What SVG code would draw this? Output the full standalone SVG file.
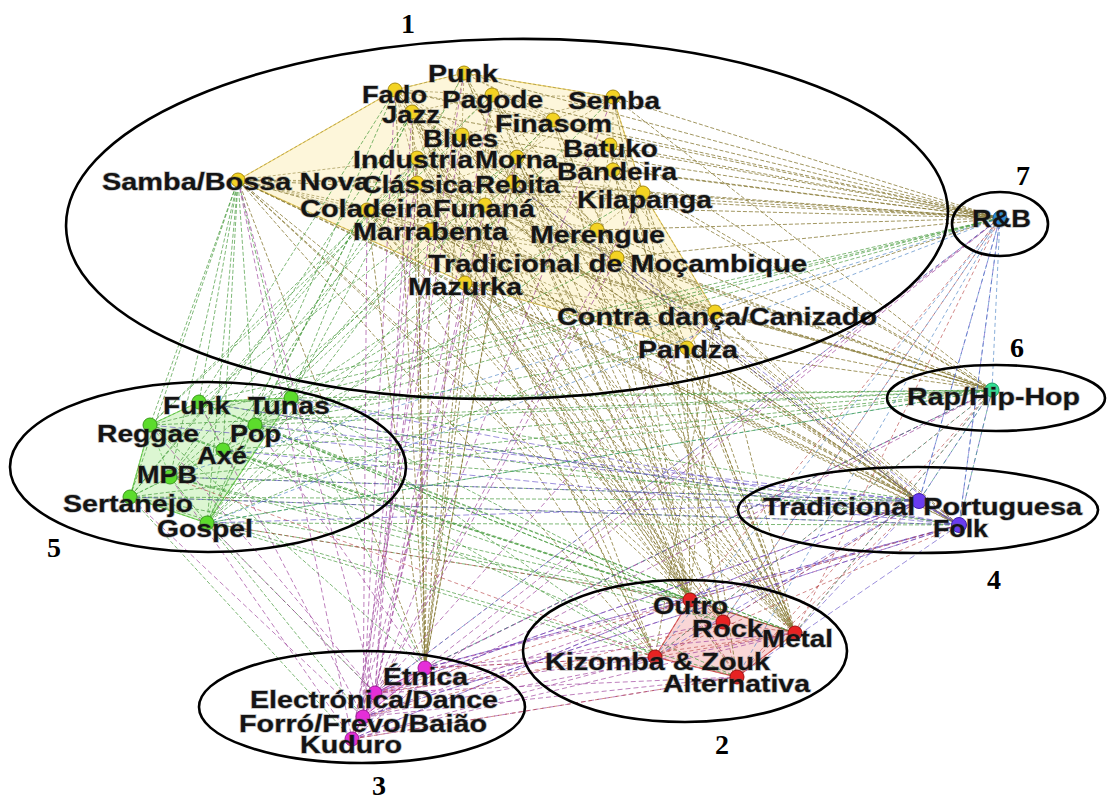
<svg xmlns="http://www.w3.org/2000/svg" width="1107" height="800" viewBox="0 0 1107 800">
  <style>
    .lbl { font-family: "Liberation Sans", Arial, sans-serif; font-weight: bold; font-size: 24px; fill: #141414; stroke: #5a5a5a; stroke-opacity: 0.4; stroke-width: 1.4px; paint-order: stroke; }
    .num { font-family: "Liberation Serif", "Times New Roman", serif; font-weight: bold; font-size: 28px; fill: #000; text-anchor: middle; }
    .grp { fill: none; stroke: #000; stroke-width: 2.6; }
    .e { fill: none; stroke-width: 1; }
    .e-y  { stroke: #8a7c38; stroke-dasharray: 4 2; stroke-opacity: 0.8; }
    .e-yi { stroke: #9a8c48; stroke-dasharray: 3 2; stroke-opacity: 0.65; }
    .e-g  { stroke: #3a9430; stroke-dasharray: 4 2; stroke-opacity: 0.65; }
    .e-gi { stroke: #45b03a; stroke-dasharray: 3 2; stroke-opacity: 0.6; }
    .e-m  { stroke: #9a3a98; stroke-dasharray: 5 3; stroke-opacity: 0.65; }
    .e-v  { stroke: #5a44c4; stroke-dasharray: 6 3; stroke-opacity: 0.6; }
    .e-r  { stroke: #b43a3a; stroke-dasharray: 4 3; stroke-opacity: 0.6; }
    .e-b  { stroke: #3a78c0; stroke-dasharray: 4 3; stroke-opacity: 0.6; }
    .e-t  { stroke: #2e9a7a; stroke-dasharray: 4 3; stroke-opacity: 0.6; }
    .n-y circle { fill: #f3d323; stroke: #a88c10; stroke-width: 1; }
    .n-g circle { fill: #5cdc2c; stroke: #3a9a1a; stroke-width: 1; }
    .n-m circle { fill: #e52ed8; stroke: #a01898; stroke-width: 1; }
    .n-r circle { fill: #e82222; stroke: #a01010; stroke-width: 1; }
    .n-v circle { fill: #6a3cf0; stroke: #4020b0; stroke-width: 1; }
    .n-b circle { fill: #2a8ee0; stroke: #1a60a0; stroke-width: 1; }
    .n-t circle { fill: #30e094; stroke: #1a9a60; stroke-width: 1; }
  </style>

  <rect width="1107" height="800" fill="#ffffff"/>

  <!-- community hulls -->
  <g id="hulls">
    <polygon points="238,180 395,90 464,73 613,97 643,193 715,312 687,348 465,283" fill="#fdf6da" stroke="#f0d468" stroke-width="1.2"/>
    <polygon points="150,425 199,402 291,398 207,523 130,497" fill="#dcf6d2" stroke="#86d866" stroke-width="1.2"/>
    <polygon points="655,657 690,600 795,633 737,677" fill="#f9d6d6" stroke="#e06a6a" stroke-width="1.2"/>
    <polygon points="425,668 375,693 352,739 363,717" fill="#f6d0f0" stroke="#e070d8" stroke-width="1"/>
    <line x1="919" y1="501" x2="959" y2="525" stroke="#8a70f0" stroke-width="2"/>
  </g>

  <!-- connectors -->
  <g id="edges">
    <!-- inside community 1 -->
    <path class="e e-yi" d="M238 180L417 183M238 180L367 210M238 180L430 230M238 180L395 90M238 180L417 158M238 180L465 283M238 180L617 258
      M395 90L464 73M395 90L492 95M395 90L412 112M395 90L462 135M395 90L517 157M395 90L553 120M395 90L485 205M395 90L430 230
      M464 73L613 97M464 73L553 120M464 73L462 135M464 73L417 158M464 73L513 182M464 73L610 145
      M492 95L613 97M492 95L412 112M492 95L517 157M492 95L610 145M492 95L485 205M492 95L597 230M492 95L367 210
      M613 97L553 120M613 97L613 170M613 97L643 193M613 97L517 157M613 97L462 135
      M412 112L462 135M412 112L417 183M412 112L513 182M412 112L465 283M412 112L597 230
      M553 120L610 145M553 120L517 157M553 120L485 205M553 120L617 258M553 120L417 183
      M462 135L517 157M462 135L417 158M462 135L430 230M462 135L613 170M462 135L715 312
      M610 145L613 170M610 145L643 193M610 145L513 182M610 145L597 230
      M417 158L417 183M417 158L367 210M417 158L485 205M417 158L617 258M417 158L687 348
      M517 157L513 182M517 157L613 170M517 157L485 205M517 157L465 283M517 157L597 230M517 157L367 210
      M613 170L643 193M613 170L597 230M613 170L513 182M613 170L715 312
      M417 183L513 182M417 183L367 210M417 183L430 230M417 183L617 258M417 183L715 312
      M513 182L485 205M513 182L643 193M513 182L617 258M513 182L465 283M513 182L687 348
      M643 193L597 230M643 193L617 258M643 193L715 312M643 193L485 205
      M367 210L485 205M367 210L430 230M367 210L465 283M367 210L617 258
      M485 205L430 230M485 205L597 230M485 205L465 283M485 205L715 312
      M430 230L465 283M430 230L617 258M430 230L597 230M430 230L687 348
      M597 230L617 258M597 230L465 283M597 230L715 312
      M617 258L715 312M617 258L687 348M617 258L465 283
      M465 283L687 348M465 283L715 312
      M395 90L465 283M412 112L687 348M462 135L597 230M464 73L430 230M553 120L715 312M610 145L465 283M492 95L687 348M417 158L643 193M367 210L613 170M238 180L513 182"/>
    <!-- community 1 to R&B -->
    <path class="e e-y" d="M613 97L1000 218M610 145L1000 218M613 170L1000 218M643 193L1000 218M553 120L1000 218M492 95L1000 218M464 73L1000 218M597 230L1000 218M617 258L1000 218M517 157L1000 218M513 182L1000 218M715 312L1000 218M412 112L1000 218M395 90L1000 218M462 135L1000 218M238 180L1000 218M485 205L1000 218M417 183L1000 218"/>
    <!-- community 1 to Rap/Hip-Hop -->
    <path class="e e-y" d="M687 348L992 390M715 312L992 390M617 258L992 390M597 230L992 390M643 193L992 390M465 283L992 390M430 230L992 390M485 205L992 390M367 210L992 390M417 183L992 390M238 180L992 390M613 170L992 390M610 145L992 390M613 97L992 390"/>
    <!-- community 1 to community 4 -->
    <path class="e e-y" d="M687 348L919 501M715 312L919 501M465 283L919 501M430 230L919 501M367 210L919 501M485 205L919 501M513 182L919 501M417 158L919 501M412 112L919 501M238 180L919 501M617 258L919 501M517 157L919 501M395 90L919 501
      M715 312L959 525M687 348L959 525M465 283L959 525M430 230L959 525M417 183L959 525M238 180L959 525M597 230L959 525"/>
    <!-- community 1 to community 2 -->
    <path class="e e-y" d="M395 90L690 600M412 112L723 622M462 135L795 633M417 158L690 600M417 183L655 657M367 210L690 600M430 230L723 622M465 283L795 633M465 283L690 600M485 205L655 657M513 182L723 622M517 157L795 633M464 73L795 633M492 95L723 622M617 258L690 600M597 230L795 633M715 312L655 657M238 180L690 600M238 180L795 633M430 230L737 677M687 348L737 677M643 193L723 622M610 145L690 600M553 120L690 600M613 97L723 622M412 112L655 657M367 210L723 622M465 283L655 657M417 158L795 633M238 180L723 622M238 180L655 657M715 312L795 633M687 348L690 600M613 170L795 633M462 135L690 600
      M395 90L795 633M412 112L690 600M417 183L795 633M417 183L690 600M367 210L795 633M430 230L690 600M430 230L795 633M485 205L690 600M485 205L795 633M513 182L690 600M517 157L690 600M492 95L795 633M464 73L690 600M617 258L795 633M597 230L690 600M643 193L795 633M553 120L795 633M610 145L795 633M715 312L690 600M687 348L795 633M465 283L723 622M367 210L655 657"/>
    <!-- community 1 to Étnica -->
    <path class="e e-y" d="M430 230L425 668M465 283L425 668M417 183L425 668M417 158L425 668M485 205L425 668M367 210L425 668M412 112L425 668M395 90L425 668M238 180L425 668M462 135L425 668M513 182L425 668M517 157L425 668M492 95L425 668"/>
    <!-- community 1 to community 5 -->
    <path class="e e-g" d="M395 90L207 523M412 112L207 523M395 90L199 402M412 112L255 425M417 158L223 450M417 183L170 477M367 210L130 497M430 230L255 425M367 210L291 398M465 283L207 523M462 135L150 425M517 157L199 402M485 205L223 450M513 182L170 477M617 258L130 497M613 97L207 523M643 193L255 425M464 73L291 398M492 95L150 425M715 312L207 523M238 180L199 402M238 180L150 425M238 180L170 477M238 180L130 497M238 180L207 523M238 180L255 425M238 180L291 398M238 180L223 450M430 230L207 523M417 158L130 497M412 112L170 477M553 120L223 450M597 230L207 523M687 348L255 425M465 283L291 398"/>
    <!-- community 5 outwards -->
    <path class="e e-g" d="M199 402L992 390M291 398L992 390M255 425L992 390M150 425L992 390M223 450L919 501M170 477L919 501M130 497L959 525M207 523L959 525M255 425L1000 218M291 398L1000 218M199 402L1000 218M223 450L795 633M170 477L723 622M207 523L690 600M207 523L655 657M130 497L737 677M150 425L795 633M291 398L919 501M255 425L959 525M223 450L992 390M199 402L690 600M291 398L425 668M207 523L375 693M170 477L363 717M130 497L352 739M150 425L425 668M255 425L655 657M291 398L655 657M199 402L959 525M223 450L737 677M150 425L1000 218M130 497L919 501M170 477L992 390
      M255 425L690 600M291 398L723 622M223 450L690 600M170 477L690 600M150 425L723 622M130 497L690 600M199 402L795 633M255 425L795 633M130 497L992 390M207 523L992 390"/>
    <!-- inside community 5 -->
    <path class="e e-gi" d="M150 425L199 402M199 402L291 398M291 398L255 425M255 425L223 450M223 450L170 477M170 477L130 497M130 497L207 523M207 523L223 450M150 425L170 477M199 402L255 425M150 425L223 450M207 523L255 425M291 398L207 523M199 402L223 450M150 425L130 497M291 398L170 477"/>
    <!-- community 1 to community 3 -->
    <path class="e e-m" d="M412 112L375 693M417 158L363 717M462 135L352 739M417 183L375 693M465 283L375 693M430 230L363 717M517 157L352 739M485 205L375 693M395 90L363 717M492 95L375 693M617 258L352 739M613 97L375 693M643 193L363 717M715 312L375 693M238 180L352 739M238 180L375 693M367 210L363 717M464 73L352 739"/>
    <!-- community 3 outwards -->
    <path class="e e-m" d="M425 668L1000 218M375 693L1000 218M363 717L992 390M352 739L919 501M425 668L959 525M375 693L992 390M425 668L795 633M375 693L723 622M363 717L690 600M352 739L655 657M425 668L655 657M375 693L737 677M363 717L795 633M352 739L737 677M375 693L919 501M363 717L959 525M425 668L992 390M352 739L1000 218M375 693L207 523M363 717L130 497M352 739L170 477M425 668L255 425M375 693L150 425M363 717L199 402M425 668L690 600M375 693L655 657M352 739L795 633M363 717L737 677
      M425 668L375 693M375 693L363 717M363 717L352 739M425 668L363 717M375 693L352 739M425 668L352 739"/>
    <!-- community 4 outwards -->
    <path class="e e-v" d="M919 501L1000 218M959 525L1000 218M919 501L992 390M959 525L992 390M919 501L207 523M959 525L130 497M919 501L170 477M959 525L223 450M919 501L150 425M959 525L291 398M919 501L655 657M959 525L690 600M919 501L795 633M959 525L737 677M919 501L375 693M959 525L363 717M919 501L352 739M959 525L425 668M919 501L959 525M919 501L255 425M959 525L199 402M919 501L723 622M959 525L617 258M919 501L513 182"/>
    <!-- community 2 -->
    <path class="e e-r" d="M690 600L1000 218M723 622L1000 218M795 633L1000 218M655 657L992 390M737 677L992 390M795 633L992 390M723 622L919 501M690 600L959 525M655 657L959 525M737 677L919 501M655 657L425 668M690 600L375 693M723 622L363 717M737 677L352 739M795 633L375 693M690 600L207 523M655 657L170 477
      M690 600L723 622M723 622L795 633M795 633L737 677M737 677L655 657M655 657L690 600M655 657L723 622M690 600L795 633M723 622L737 677M655 657L795 633M690 600L737 677"/>
    <!-- R&B -->
    <path class="e e-b" d="M1000 218L992 390M1000 218L919 501M1000 218L959 525M1000 218L737 677M1000 218L655 657M1000 218L375 693M1000 218L207 523M1000 218L170 477M1000 218L723 622"/>
    <!-- Rap/Hip-Hop -->
    <path class="e e-t" d="M992 390L959 525M992 390L919 501M992 390L795 633M992 390L655 657M992 390L425 668M992 390L207 523"/>
  </g>

  <!-- community 1 -->
  <g id="n-punk" class="n-y"><circle cx="464" cy="73" r="7"/><text class="lbl" x="428" y="82" textLength="70" lengthAdjust="spacingAndGlyphs">Punk</text></g>
  <g id="n-fado" class="n-y"><circle cx="395" cy="90" r="7"/><text class="lbl" x="362" y="103" textLength="65" lengthAdjust="spacingAndGlyphs">Fado</text></g>
  <g id="n-pagode" class="n-y"><circle cx="492" cy="95" r="7"/><text class="lbl" x="442" y="108" textLength="101" lengthAdjust="spacingAndGlyphs">Pagode</text></g>
  <g id="n-semba" class="n-y"><circle cx="613" cy="97" r="7"/><text class="lbl" x="568" y="109" textLength="92" lengthAdjust="spacingAndGlyphs">Semba</text></g>
  <g id="n-jazz" class="n-y"><circle cx="412" cy="112" r="7"/><text class="lbl" x="382" y="123" textLength="58" lengthAdjust="spacingAndGlyphs">Jazz</text></g>
  <g id="n-finasom" class="n-y"><circle cx="553" cy="120" r="7"/><text class="lbl" x="495" y="132" textLength="117" lengthAdjust="spacingAndGlyphs">Finasom</text></g>
  <g id="n-blues" class="n-y"><circle cx="462" cy="135" r="7"/><text class="lbl" x="423" y="147" textLength="75" lengthAdjust="spacingAndGlyphs">Blues</text></g>
  <g id="n-batuko" class="n-y"><circle cx="610" cy="145" r="7"/><text class="lbl" x="563" y="157" textLength="95" lengthAdjust="spacingAndGlyphs">Batuko</text></g>
  <g id="n-industria" class="n-y"><circle cx="417" cy="158" r="7"/><text class="lbl" x="353" y="168" textLength="120" lengthAdjust="spacingAndGlyphs">Industria</text></g>
  <g id="n-morna" class="n-y"><circle cx="517" cy="157" r="7"/><text class="lbl" x="475" y="168" textLength="83" lengthAdjust="spacingAndGlyphs">Morna</text></g>
  <g id="n-bandeira" class="n-y"><circle cx="613" cy="170" r="7"/><text class="lbl" x="557" y="180" textLength="120" lengthAdjust="spacingAndGlyphs">Bandeira</text></g>
  <g id="n-samba" class="n-y"><circle cx="238" cy="180" r="7"/><text class="lbl" x="102" y="190" textLength="268" lengthAdjust="spacingAndGlyphs">Samba/Bossa Nova</text></g>
  <g id="n-classica" class="n-y"><circle cx="417" cy="183" r="7"/><text class="lbl" x="362" y="193" textLength="111" lengthAdjust="spacingAndGlyphs">Clássica</text></g>
  <g id="n-rebita" class="n-y"><circle cx="513" cy="182" r="7"/><text class="lbl" x="475" y="193" textLength="85" lengthAdjust="spacingAndGlyphs">Rebita</text></g>
  <g id="n-kilapanga" class="n-y"><circle cx="643" cy="193" r="7"/><text class="lbl" x="577" y="208" textLength="135" lengthAdjust="spacingAndGlyphs">Kilapanga</text></g>
  <g id="n-coladeira" class="n-y"><circle cx="367" cy="210" r="7"/><text class="lbl" x="300" y="217" textLength="132" lengthAdjust="spacingAndGlyphs">Coladeira</text></g>
  <g id="n-funana" class="n-y"><circle cx="485" cy="205" r="7"/><text class="lbl" x="433" y="217" textLength="102" lengthAdjust="spacingAndGlyphs">Funaná</text></g>
  <g id="n-marrabenta" class="n-y"><circle cx="430" cy="230" r="7"/><text class="lbl" x="353" y="240" textLength="155" lengthAdjust="spacingAndGlyphs">Marrabenta</text></g>
  <g id="n-merengue" class="n-y"><circle cx="597" cy="230" r="7"/><text class="lbl" x="530" y="243" textLength="135" lengthAdjust="spacingAndGlyphs">Merengue</text></g>
  <g id="n-tradmoc" class="n-y"><circle cx="617" cy="258" r="7"/><text class="lbl" x="428" y="272" textLength="379" lengthAdjust="spacingAndGlyphs">Tradicional de Moçambique</text></g>
  <g id="n-mazurka" class="n-y"><circle cx="465" cy="283" r="7"/><text class="lbl" x="408" y="295" textLength="114" lengthAdjust="spacingAndGlyphs">Mazurka</text></g>
  <g id="n-contra" class="n-y"><circle cx="715" cy="312" r="7"/><text class="lbl" x="557" y="325" textLength="320" lengthAdjust="spacingAndGlyphs">Contra dança/Canizado</text></g>
  <g id="n-pandza" class="n-y"><circle cx="687" cy="348" r="7"/><text class="lbl" x="638" y="358" textLength="100" lengthAdjust="spacingAndGlyphs">Pandza</text></g>

  <!-- community 5 -->
  <g id="n-funk" class="n-g"><circle cx="199" cy="402" r="7"/><text class="lbl" x="163" y="414" textLength="67" lengthAdjust="spacingAndGlyphs">Funk</text></g>
  <g id="n-tunas" class="n-g"><circle cx="291" cy="398" r="7"/><text class="lbl" x="248" y="414" textLength="82" lengthAdjust="spacingAndGlyphs">Tunas</text></g>
  <g id="n-reggae" class="n-g"><circle cx="150" cy="425" r="7"/><text class="lbl" x="97" y="442" textLength="102" lengthAdjust="spacingAndGlyphs">Reggae</text></g>
  <g id="n-pop" class="n-g"><circle cx="255" cy="425" r="7"/><text class="lbl" x="230" y="442" textLength="51" lengthAdjust="spacingAndGlyphs">Pop</text></g>
  <g id="n-axe" class="n-g"><circle cx="223" cy="450" r="7"/><text class="lbl" x="197" y="464" textLength="50" lengthAdjust="spacingAndGlyphs">Axé</text></g>
  <g id="n-mpb" class="n-g"><circle cx="170" cy="477" r="7"/><text class="lbl" x="137" y="483" textLength="60" lengthAdjust="spacingAndGlyphs">MPB</text></g>
  <g id="n-sertanejo" class="n-g"><circle cx="130" cy="497" r="7"/><text class="lbl" x="63" y="512" textLength="130" lengthAdjust="spacingAndGlyphs">Sertanejo</text></g>
  <g id="n-gospel" class="n-g"><circle cx="207" cy="523" r="7"/><text class="lbl" x="157" y="537" textLength="96" lengthAdjust="spacingAndGlyphs">Gospel</text></g>

  <!-- communities 6, 7 and 4 -->
  <g id="n-rap" class="n-t"><circle cx="992" cy="390" r="7"/><text class="lbl" x="907" y="405" textLength="173" lengthAdjust="spacingAndGlyphs">Rap/Hip-Hop</text></g>
  <g id="n-rnb" class="n-b"><circle cx="1000" cy="218" r="7"/><text class="lbl" x="972" y="227" textLength="59" lengthAdjust="spacingAndGlyphs">R&amp;B</text></g>
  <g id="n-tradport" class="n-v"><circle cx="919" cy="501" r="7.5"/><text class="lbl" x="763" y="515" textLength="319" lengthAdjust="spacingAndGlyphs">Tradicional Portuguesa</text></g>
  <g id="n-folk" class="n-v"><circle cx="959" cy="525" r="7.5"/><text class="lbl" x="933" y="537" textLength="55" lengthAdjust="spacingAndGlyphs">Folk</text></g>

  <!-- community 3 -->
  <g id="n-etnica" class="n-m"><circle cx="425" cy="668" r="7"/><text class="lbl" x="383" y="685" textLength="85" lengthAdjust="spacingAndGlyphs">Étnica</text></g>
  <g id="n-electronica" class="n-m"><circle cx="375" cy="693" r="7"/><text class="lbl" x="250" y="708" textLength="248" lengthAdjust="spacingAndGlyphs">Electrónica/Dance</text></g>
  <g id="n-forro" class="n-m"><circle cx="363" cy="717" r="7"/><text class="lbl" x="239" y="732" textLength="248" lengthAdjust="spacingAndGlyphs">Forró/Frevo/Baião</text></g>
  <g id="n-kuduro" class="n-m"><circle cx="352" cy="739" r="7"/><text class="lbl" x="300" y="753" textLength="102" lengthAdjust="spacingAndGlyphs">Kuduro</text></g>

  <!-- community 2 -->
  <g id="n-outro" class="n-r"><circle cx="690" cy="600" r="7"/><text class="lbl" x="653" y="614" textLength="75" lengthAdjust="spacingAndGlyphs">Outro</text></g>
  <g id="n-rock" class="n-r"><circle cx="723" cy="622" r="7"/><text class="lbl" x="692" y="637" textLength="71" lengthAdjust="spacingAndGlyphs">Rock</text></g>
  <g id="n-metal" class="n-r"><circle cx="795" cy="633" r="7"/><text class="lbl" x="762" y="647" textLength="71" lengthAdjust="spacingAndGlyphs">Metal</text></g>
  <g id="n-kizomba" class="n-r"><circle cx="655" cy="657" r="7"/><text class="lbl" x="545" y="670" textLength="225" lengthAdjust="spacingAndGlyphs">Kizomba &amp; Zouk</text></g>
  <g id="n-alternativa" class="n-r"><circle cx="737" cy="677" r="7"/><text class="lbl" x="663" y="692" textLength="147" lengthAdjust="spacingAndGlyphs">Alternativa</text></g>

  <!-- community outlines and numbers -->
  <g id="communities">
    <ellipse class="grp" cx="507" cy="219" rx="441" ry="180" transform="rotate(-1 507 219)"/>
    <ellipse class="grp" cx="685" cy="651" rx="162" ry="71"/>
    <ellipse class="grp" cx="362" cy="707" rx="163" ry="56"/>
    <ellipse class="grp" cx="918" cy="510" rx="180" ry="43"/>
    <ellipse class="grp" cx="208" cy="467" rx="198" ry="85"/>
    <ellipse class="grp" cx="996" cy="398" rx="109" ry="33"/>
    <ellipse class="grp" cx="1000" cy="224" rx="48" ry="32"/>
    <text class="num" x="408" y="33">1</text>
    <text class="num" x="722" y="754">2</text>
    <text class="num" x="379" y="795">3</text>
    <text class="num" x="994" y="589">4</text>
    <text class="num" x="54" y="557">5</text>
    <text class="num" x="1017" y="357">6</text>
    <text class="num" x="1023" y="185">7</text>
  </g>
</svg>
